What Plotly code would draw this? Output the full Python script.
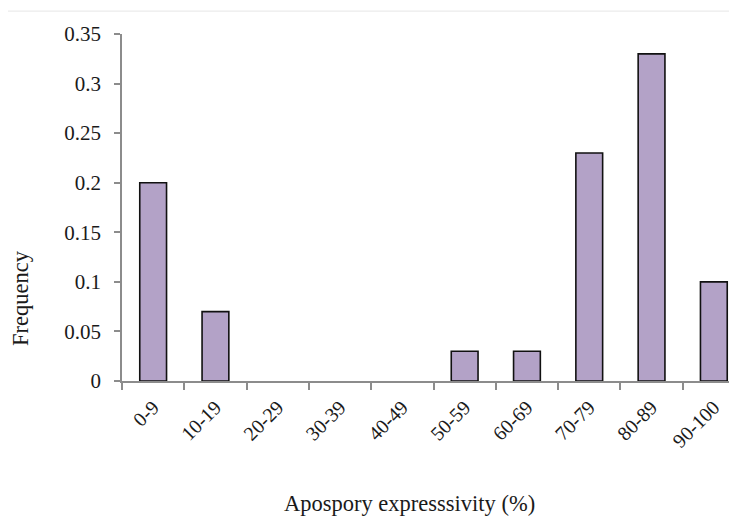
import plotly.graph_objects as go

categories = ["0-9", "10-19", "20-29", "30-39", "40-49", "50-59", "60-69", "70-79", "80-89", "90-100"]
frequency = [0.20, 0.07, 0, 0, 0, 0.03, 0.03, 0.23, 0.33, 0.10]
y_ticks = [0, 0.05, 0.1, 0.15, 0.2, 0.25, 0.3, 0.35]
y_tick_labels = ["0", "0.05", "0.1", "0.15", "0.2", "0.25", "0.3", "0.35"]

font = "Liberation Serif, Times New Roman, serif"

# zero-frequency classes draw no bar in the reference
bar_values = [v if v > 0 else None for v in frequency]

fig = go.Figure(go.Bar(
    x=categories, y=bar_values, width=0.43,
    marker=dict(color="#B3A2C7", line=dict(color="#111111", width=1.6)),
))

fig.update_layout(
    width=737, height=518,
    margin=dict(l=114, r=0, t=26, b=145, autoexpand=False),
    paper_bgcolor="white", plot_bgcolor="white",
    showlegend=False,
    font=dict(family=font, size=21, color="#1a1a1a"),
    shapes=[dict(type="line", xref="paper", yref="paper",
                 x0=-0.2, x1=1.0, y0=1.066, y1=1.066,
                 line=dict(color="#e6e6e6", width=1))],
    annotations=[
        dict(text="Apospory expresssivity (%)", xref="paper", yref="paper",
             x=0.462, y=-0.352, xanchor="center", yanchor="middle", showarrow=False,
             font=dict(family=font, size=22.5, color="#1a1a1a")),
        dict(text="Frequency", xref="paper", yref="paper",
             x=-0.164, y=0.239, xanchor="center", yanchor="middle", showarrow=False,
             textangle=-90, font=dict(family=font, size=22.5, color="#1a1a1a")),
    ],
)
fig.update_xaxes(
    range=[-0.5, 9.5], type="category", automargin=False,
    showline=True, linecolor="#8c8c8c", linewidth=1.5,
    ticks="outside", ticklen=7, tickcolor="#8c8c8c", tickwidth=1.5,
    tickson="boundaries", tickangle=-45, ticklabelstandoff=5,
    tickfont=dict(family=font, size=20),
    showgrid=False,
)
fig.update_yaxes(
    range=[0, 0.35], tickvals=y_ticks, ticktext=y_tick_labels, automargin=False,
    showline=True, linecolor="#8c8c8c", linewidth=1.5,
    ticks="outside", ticklen=6, tickcolor="#8c8c8c", tickwidth=1.5,
    ticklabelstandoff=9,
    tickfont=dict(family=font, size=21),
    showgrid=False, zeroline=False,
)

fig.write_html("out.html")
